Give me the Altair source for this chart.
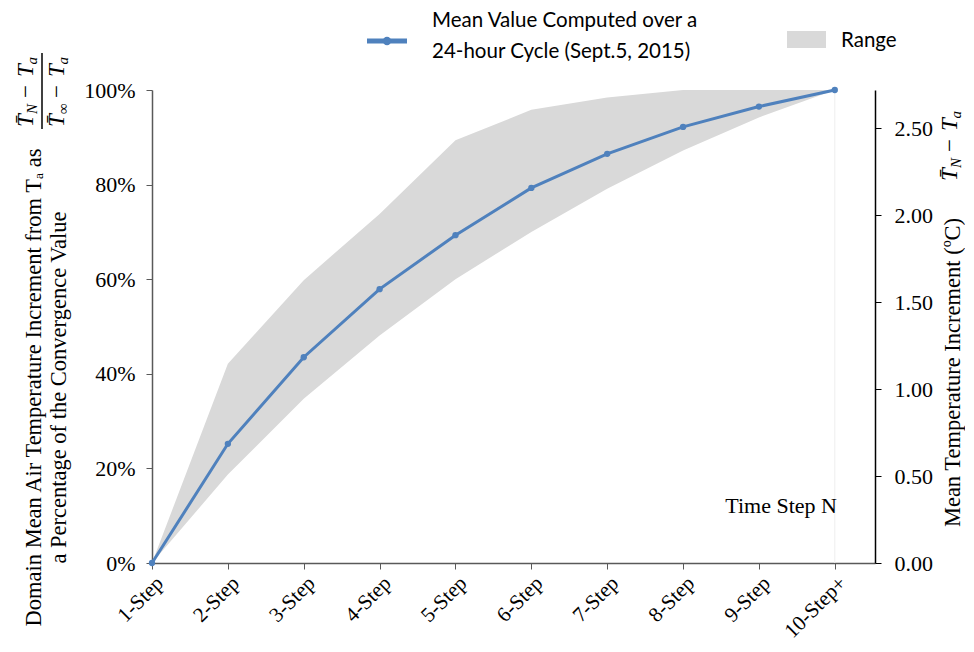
import json
import altair as alt
import pandas as pd

# ---------------- data ----------------
steps = ["1-Step", "2-Step", "3-Step", "4-Step", "5-Step",
         "6-Step", "7-Step", "8-Step", "9-Step", "10-Step+"]
mean_pct = [0, 25.2, 43.5, 57.9, 69.3, 79.3, 86.5, 92.2, 96.5, 100]
upper_pct = [0, 42.1, 59.8, 73.8, 89.4, 95.8, 98.4, 100, 100, 100]
lower_pct = [0, 18.7, 34.7, 48.1, 60.0, 70.0, 79.1, 87.2, 94.2, 100]
convergence_c = 2.72          # deg C corresponding to 100 %
left_ticks = [0, 0.2, 0.4, 0.6, 0.8, 1.0]
right_ticks = [0, 0.5, 1.0, 1.5, 2.0, 2.5]
legend_mean = ["Mean Value Computed over a", "24-hour Cycle (Sept.5, 2015)"]
legend_range = "Range"
left_title = ["Domain Mean Air Temperature Increment from T\u2090 as",
              "a Percentage of the Convergence Value"]
right_title = "Mean Temperature Increment (\u00baC)"
x_note = "Time Step N"

df = pd.DataFrame({
    "idx": list(range(len(steps))),
    "step": steps,
    "mean": [v / 100 for v in mean_pct],
    "hi": [v / 100 for v in upper_pct],
    "lo": [v / 100 for v in lower_pct],
    "mean_c": [v / 100 * convergence_c for v in mean_pct],
})

# ---------------- layout ----------------
W, H = 723, 473
PL, PT = 144, 82          # padding => plot origin at page (152, 90)
OX, OY = PL + 8, PT + 8

SERIF = "Liberation Serif"
SANS = "Lato"
BLUE = "#4f81bd"
GREY = "#d9d9d9"
LBL = 22

one = alt.Data(values=[{"k": 1}])

x_scale = alt.Scale(domain=[0, 9.53], nice=False, zero=False)
x_axis = alt.Axis(values=list(range(len(steps))),
                  labelExpr=json.dumps(steps) + "[datum.value]",
                  labelAngle=315, labelAlign="right", labelBaseline="top",
                  labelOverlap=False,
                  labelFont=SERIF, labelFontSize=21, labelColor="black",
                  labelPadding=3, tickSize=6, tickColor="#595959",
                  domainColor="#595959", domainWidth=1.5, grid=False, title=None)

y_left = alt.Scale(domain=[0, 1], nice=False, zero=True)

area = alt.Chart(df).mark_area(color=GREY, opacity=1).encode(
    x=alt.X("idx:Q", scale=x_scale, axis=x_axis),
    y=alt.Y("hi:Q", scale=y_left,
            axis=alt.Axis(values=left_ticks, format=".0%", grid=False,
                          labelFont=SERIF, labelFontSize=LBL, labelColor="black",
                          labelPadding=11, tickSize=6, tickColor="#595959",
                          domainColor="#595959", domainWidth=1.5,
                          title=left_title, titleFont=SERIF, titleFontSize=22.5,
                          titleFontWeight="normal", titleColor="black",
                          titleAngle=270, titleAlign="center",
                          titleBaseline="alphabetic", titleLineHeight=25,
                          titleX=40 - OX, titleY=387 - OY)),
    y2="lo:Q",
)

vline = alt.Chart(one).mark_rule(color="#eeeeee", strokeWidth=1).encode(
    x=alt.datum(len(steps) - 1, scale=x_scale), y=alt.value(0), y2=alt.value(H))

line = alt.Chart(df).mark_line(color=BLUE, strokeWidth=3).encode(
    x=alt.X("idx:Q", scale=x_scale),
    y=alt.Y("mean:Q", scale=y_left, axis=None),
)
pts = alt.Chart(df).mark_point(color=BLUE, filled=True, size=40, opacity=1).encode(
    x=alt.X("idx:Q", scale=x_scale),
    y=alt.Y("mean:Q", scale=y_left, axis=None),
)

right = alt.Chart(df).mark_line(opacity=0).encode(
    x=alt.X("idx:Q", scale=x_scale),
    y=alt.Y("mean_c:Q", scale=alt.Scale(domain=[0, convergence_c], nice=False),
            axis=alt.Axis(orient="right", values=right_ticks, format=".2f", grid=False,
                          labelFont=SERIF, labelFontSize=LBL, labelColor="black",
                          labelPadding=13, tickSize=6, tickColor="black",
                          domainColor="black", domainWidth=1.5,
                          title=right_title, titleFont=SERIF, titleFontSize=22.5,
                          titleFontWeight="normal", titleColor="black",
                          titleAngle=270, titleAlign="center",
                          titleBaseline="alphabetic",
                          titleX=959 - (OX + W), titleY=372 - OY)),
)


def txt(text, px, py, size, font=SERIF, align="left", baseline="alphabetic",
        angle=0, italic=False, color="black"):
    kw = dict(text=text, font=font, fontSize=size, align=align,
              baseline=baseline, color=color)
    if angle:
        kw["angle"] = angle
    if italic:
        kw["fontStyle"] = "italic"
    return alt.Chart(one).mark_text(**kw).encode(
        x=alt.value(px - OX), y=alt.value(py - OY))


def math_label(sub, base_x, start_y):
    parts = [("T\u0304", 0, 23, 0, True),
             (sub, 13, 15, 4, True),
             ("\u2212", 29, 23, 0, False),
             ("T", 50, 23, 0, True),
             ("a", 62.5, 15, 4, True)]
    return [txt(t, base_x + sh, start_y - off, sz, angle=270, italic=it)
            for t, off, sz, sh, it in parts]


annots = []
annots += math_label("N", 33, 127)
annots += math_label("\u221e", 64, 127)
annots.append(alt.Chart(one).mark_rule(color="black", strokeWidth=1.5).encode(
    x=alt.value(42 - OX), y=alt.value(53 - OY), y2=alt.value(129 - OY)))
annots += math_label("N", 957, 181)
annots.append(txt(x_note, 837, 513, 22, align="right"))

# legend
annots.append(alt.Chart(one).mark_rule(color=BLUE, strokeWidth=5).encode(
    x=alt.value(367 - OX), x2=alt.value(407 - OX), y=alt.value(41 - OY)))
annots.append(alt.Chart(one).mark_point(color=BLUE, filled=True, size=70, opacity=1).encode(
    x=alt.value(387 - OX), y=alt.value(41 - OY)))
annots.append(txt(legend_mean[0], 432, 27, 20.5, font=SANS))
annots.append(txt(legend_mean[1], 432, 58, 20.5, font=SANS))
annots.append(alt.Chart(one).mark_rect(color=GREY).encode(
    x=alt.value(787 - OX), x2=alt.value(826 - OX),
    y=alt.value(31 - OY), y2=alt.value(48 - OY)))
annots.append(txt(legend_range, 841, 47, 20.5, font=SANS))

chart = alt.layer(area, vline, line, pts, right, *annots).resolve_scale(
    y="independent"
).properties(
    width=W, height=H,
    autosize=alt.AutoSizeParams(type="none"),
    padding={"left": PL, "top": PT, "right": 90, "bottom": 80},
).configure_view(stroke=None)

chart.save("out.html", embed_options={"renderer": "svg", "actions": False})
